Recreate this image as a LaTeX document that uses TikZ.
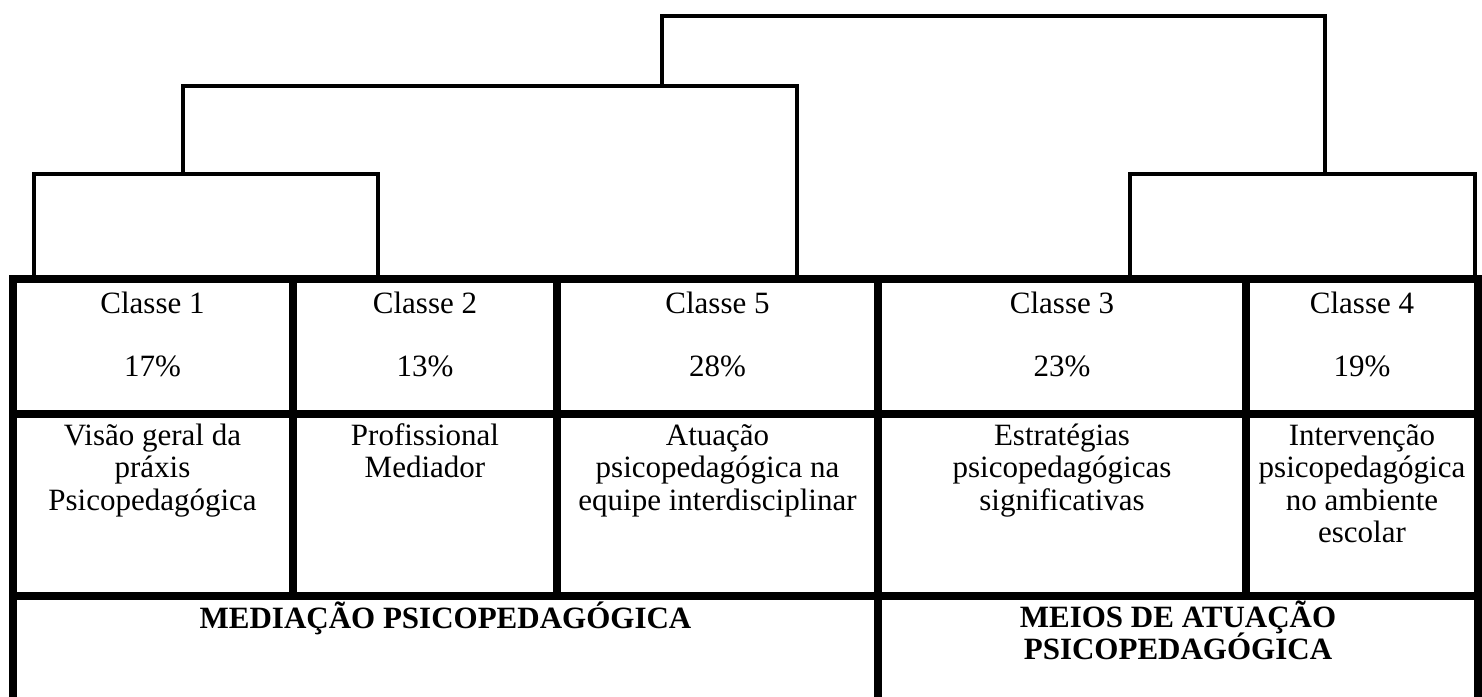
\documentclass[tikz,border=0pt]{standalone}
\usepackage{fontspec}
\setmainfont{Liberation Serif}
\begin{document}
\begin{tikzpicture}[x=1pt,y=-1pt,
  tabela/.style={line width=8pt,line cap=rect},
  dendro/.style={line width=4pt,line cap=rect},
  celula/.style={anchor=base,inner sep=0pt,align=center,font=\fontsize{31}{32.5}\selectfont},
  grupo/.style={anchor=base,inner sep=0pt,align=center,font={\fontsize{31}{32}\selectfont\bfseries\lineskiplimit-50pt\relax}}]
\useasboundingbox (0,0) rectangle (1482,696);
% folhas e junções do dendrograma
\coordinate (f_1) at (33.5,279);
\coordinate (f_2) at (378,279);
\coordinate (f_5) at (797,279);
\coordinate (f_3) at (1130,279);
\coordinate (f_4) at (1475,279);
\coordinate (j_12) at (182.5,173.5);
\coordinate (j_34) at (1325,173.5);
\coordinate (j_125) at (662,86);
\draw[dendro] (f_1) |- (j_12) -| (f_2);
\draw[dendro] (j_12) |- (j_125) -| (f_5);
\draw[dendro] (j_125) |- (1325,16) -- (j_34);
\draw[dendro] (f_3) |- (j_34) -| (f_4);
% tabela
\draw[tabela] (13,279) -- (1478,279);
\draw[tabela] (13,414) -- (1478,414);
\draw[tabela] (13,596) -- (1478,596);
\draw[tabela] (13,279) -- (13,700);
\draw[tabela] (292.5,279) -- (292.5,596);
\draw[tabela] (557,279) -- (557,596);
\draw[tabela] (878,279) -- (878,700);
\draw[tabela] (1246,279) -- (1246,596);
\draw[tabela] (1478,279) -- (1478,700);
% textos (base = última linha)
\node[celula] (cl_1) at (152.5,313) {Classe 1};
\node[celula] (pc_1) at (152.5,376) {17\%};
\node[celula] (ds_1) at (152.5,510) {Visão geral da\\práxis\\Psicopedagógica};
\node[celula] (cl_2) at (425,313) {Classe 2};
\node[celula] (pc_2) at (425,376) {13\%};
\node[celula] (ds_2) at (425,477.5) {Profissional\\Mediador};
\node[celula] (cl_5) at (717.5,313) {Classe 5};
\node[celula] (pc_5) at (717.5,376) {28\%};
\node[celula] (ds_5) at (717.5,510) {Atuação\\psicopedagógica na\\equipe interdisciplinar};
\node[celula] (cl_3) at (1062,313) {Classe 3};
\node[celula] (pc_3) at (1062,376) {23\%};
\node[celula] (ds_3) at (1062,510) {Estratégias\\psicopedagógicas\\significativas};
\node[celula] (cl_4) at (1362,313) {Classe 4};
\node[celula] (pc_4) at (1362,376) {19\%};
\node[celula] (ds_4) at (1362,542.5) {Intervenção\\psicopedagógica\\no ambiente\\escolar};
\node[grupo] (gr_1) at (445.5,628) {MEDIAÇÃO PSICOPEDAGÓGICA};
\node[grupo] (gr_2) at (1178,659) {MEIOS DE ATUAÇÃO\\PSICOPEDAGÓGICA};
\end{tikzpicture}
\end{document}
